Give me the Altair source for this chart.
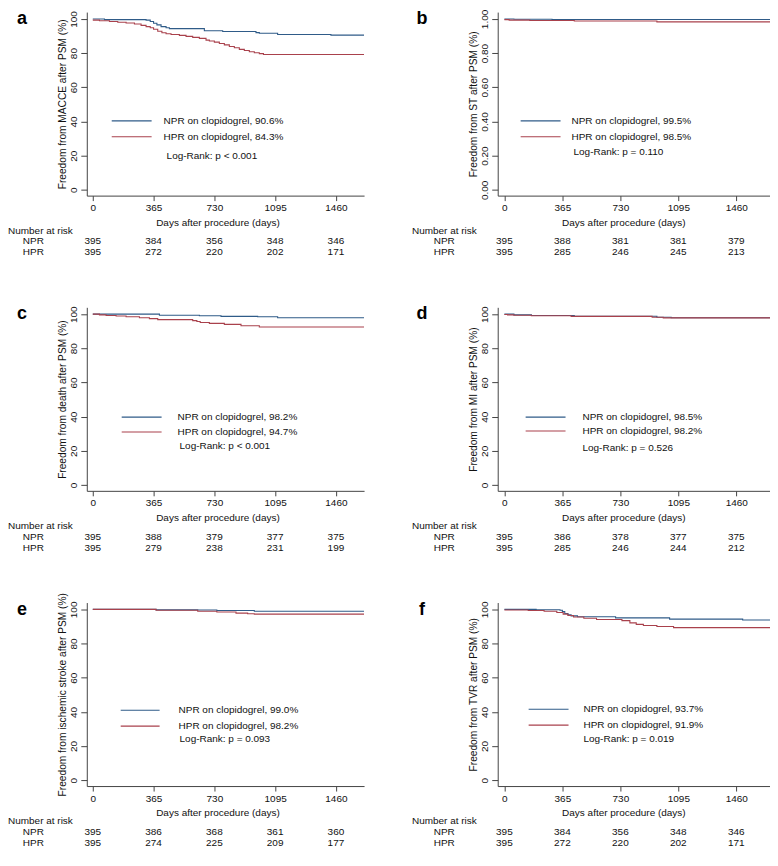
import altair as alt
import pandas as pd

FONT = "Liberation Sans"
BLUE = "#2f5b88"
RED = "#a9414c"
INK = "#111111"

DAY_TICKS = [0, 365, 730, 1095, 1460]
PCT_TICKS = [0, 20, 40, 60, 80, 100]
FRAC_TICKS = [0.0, 0.2, 0.4, 0.6, 0.8, 1.0]
GROUPS = ["NPR", "HPR"]

# ---------------- panel a : MACCE ----------------
A_NPR_T = [0, 70, 320, 345, 365, 385, 410, 440, 460, 670, 780, 980, 1000, 1110, 1430, 1629]
A_NPR_S = [100, 99.6, 99.3, 98.5, 97.5, 96.5, 95.5, 94.8, 94.3, 93.1, 92.6, 92.0, 91.6, 90.9, 90.5, 90.5]
A_HPR_T = [0, 40, 100, 150, 200, 250, 290, 320, 345, 365, 390, 415, 440, 470, 520, 560, 600, 640,
           680, 700, 730, 760, 790, 820, 850, 880, 910, 940, 970, 1000, 1025, 1629]
A_HPR_S = [99.3, 98.9, 98.5, 98.1, 97.6, 97.0, 96.2, 95.5, 94.8, 94.0, 92.8, 91.9, 91.3, 90.9, 90.4, 89.8,
           89.2, 88.6, 87.6, 87.1, 86.4, 85.6, 84.8, 83.9, 83.1, 82.2, 81.5, 80.8, 80.2, 79.7, 79.2, 79.2]
A_RISK_NPR = [395, 384, 356, 348, 346]
A_RISK_HPR = [395, 272, 220, 202, 171]
A_TITLE = "Freedom from MACCE after PSM (%)"
A_LEG = ["NPR on clopidogrel, 90.6%", "HPR on clopidogrel, 84.3%", "Log-Rank: p < 0.001"]

# ---------------- panel b : ST ----------------
B_NPR_T = [0, 60, 300, 1700]
B_NPR_S = [1.0, 0.998, 0.997, 0.997]
B_HPR_T = [0, 30, 160, 440, 960, 1700]
B_HPR_S = [0.996, 0.993, 0.991, 0.988, 0.983, 0.983]
B_RISK_NPR = [395, 388, 381, 381, 379]
B_RISK_HPR = [395, 285, 246, 245, 213]
B_TITLE = "Freedom from ST after PSM (%)"
B_LEG = ["NPR on clopidogrel, 99.5%", "HPR on clopidogrel, 98.5%", "Log-Rank: p = 0.110"]

# ---------------- panel c : death ----------------
C_NPR_T = [0, 400, 640, 770, 990, 1110, 1629]
C_NPR_S = [100, 99.4, 99.1, 98.7, 98.5, 97.9, 97.9]
C_HPR_T = [0, 40, 80, 140, 200, 280, 340, 390, 600, 625, 645, 700, 790, 890, 1000, 1629]
C_HPR_S = [100, 99.6, 99.2, 98.9, 98.5, 97.9, 97.4, 96.8, 96.2, 95.7, 95.1, 94.6, 94.0, 93.2, 92.5, 92.5]
C_RISK_NPR = [395, 388, 379, 377, 375]
C_RISK_HPR = [395, 279, 238, 231, 199]
C_TITLE = "Freedom from death after PSM (%)"
C_LEG = ["NPR on clopidogrel, 98.2%", "HPR on clopidogrel, 94.7%", "Log-Rank: p < 0.001"]

# ---------------- panel d : MI ----------------
D_NPR_T = [0, 60, 170, 440, 960, 1050, 1700]
D_NPR_S = [100, 99.6, 99.2, 98.8, 98.2, 97.9, 97.9]
D_HPR_T = [0, 20, 60, 170, 420, 930, 1000, 1700]
D_HPR_S = [99.8, 99.6, 99.4, 99.1, 98.7, 98.2, 97.8, 97.8]
D_RISK_NPR = [395, 386, 378, 377, 375]
D_RISK_HPR = [395, 285, 246, 244, 212]
D_TITLE = "Freedom from MI after PSM (%)"
D_LEG = ["NPR on clopidogrel, 98.5%", "HPR on clopidogrel, 98.2%", "Log-Rank: p = 0.526"]

# ---------------- panel e : ischemic stroke ----------------
E_NPR_T = [0, 380, 630, 745, 970, 1629]
E_NPR_S = [100, 99.7, 99.6, 99.3, 98.9, 98.9]
E_HPR_T = [0, 380, 630, 745, 860, 930, 970, 1629]
E_HPR_S = [100, 99.5, 98.9, 98.5, 97.8, 97.4, 97.2, 97.2]
E_RISK_NPR = [395, 386, 368, 361, 360]
E_RISK_HPR = [395, 274, 225, 209, 177]
E_TITLE = "Freedom from ischemic stroke after PSM (%)"
E_LEG = ["NPR on clopidogrel, 99.0%", "HPR on clopidogrel, 98.2%", "Log-Rank: p = 0.093"]

# ---------------- panel f : TVR ----------------
F_NPR_T = [0, 200, 350, 365, 380, 400, 420, 460, 700, 1040, 1500, 1700]
F_NPR_S = [100, 99.8, 99.5, 98.8, 97.6, 96.8, 96.2, 95.7, 95.0, 94.3, 93.8, 93.8]
F_HPR_T = [0, 150, 250, 330, 370, 400, 435, 500, 580, 740, 790, 830, 875, 960, 1065, 1700]
F_HPR_S = [99.6, 99.3, 98.9, 98.2, 97.2, 96.4, 95.5, 94.8, 94.1, 93.4, 92.1, 91.2, 90.6, 90.0, 89.3, 89.3]
F_RISK_NPR = [395, 384, 356, 348, 346]
F_RISK_HPR = [395, 272, 220, 202, 171]
F_TITLE = "Freedom from TVR after PSM (%)"
F_LEG = ["NPR on clopidogrel, 93.7%", "HPR on clopidogrel, 91.9%", "Log-Rank: p = 0.019"]

H = 184
ONE = pd.DataFrame({"k": [0]})


def panel(letter, nt, ns, ht, hs, rn, rh, ytitle, leg, col, frac, lpos):
    W = 278 if col == 0 else 273
    xdom = [-36, 1629] if col == 0 else [-42, 1672]
    title_x = 131 if col == 0 else 126
    if frac:
        ydom, yvals, yfmt = [-0.034, 1.04], FRAC_TICKS, ".2f"
    else:
        ydom, yvals, yfmt = [-3.4, 104], PCT_TICKS, "d"

    df = pd.DataFrame(
        [{"t": t, "s": s, "g": "NPR"} for t, s in zip(nt, ns)]
        + [{"t": t, "s": s, "g": "HPR"} for t, s in zip(ht, hs)]
    )
    xt = "Days after procedure (days)"
    x = alt.X("t:Q", title=xt,
              scale=alt.Scale(domain=xdom, nice=False, zero=False),
              axis=alt.Axis(values=DAY_TICKS, format="d", titleX=title_x))
    y = alt.Y("s:Q", title=ytitle,
              scale=alt.Scale(domain=ydom, nice=False, zero=False),
              axis=alt.Axis(values=yvals, format=yfmt))
    lines = alt.Chart(df).mark_line(interpolate="step-after", strokeWidth=1.1, clip=True).encode(
        x=x, y=y,
        color=alt.Color("g:N", scale=alt.Scale(domain=GROUPS, range=[BLUE, RED]), legend=None),
        detail="g:N",
    )

    risk_n = pd.DataFrame({"t": DAY_TICKS, "n": rn})
    risk_h = pd.DataFrame({"t": DAY_TICKS, "n": rh})
    xr = alt.X("t:Q", title=xt)
    rt_n = alt.Chart(risk_n).mark_text(fontSize=10, baseline="middle", color=INK, font=FONT).encode(
        x=xr, y=alt.value(H + 46), text="n:Q")
    rt_h = alt.Chart(risk_h).mark_text(fontSize=10, baseline="middle", color=INK, font=FONT).encode(
        x=xr, y=alt.value(H + 57), text="n:Q")

    nar_x = -79 if col == 0 else -86
    lab_x = -43
    let_x = -65 if col == 0 else -76

    def txt(s, xx, yy, align="left", size=10, weight="normal"):
        return alt.Chart(ONE).mark_text(align=align, baseline="middle", fontSize=size,
                                        fontWeight=weight, color=INK, font=FONT).encode(
            x=alt.value(xx), y=alt.value(yy), text=alt.value(s))

    lx1, lx2, tx, lgx, y1, y2, y3 = lpos
    leg_layers = [
        alt.Chart(ONE).mark_rule(color=BLUE, strokeWidth=1.2).encode(
            x=alt.value(lx1), x2=alt.value(lx2), y=alt.value(y1)),
        alt.Chart(ONE).mark_rule(color=RED, strokeWidth=1.2).encode(
            x=alt.value(lx1), x2=alt.value(lx2), y=alt.value(y2)),
        txt(leg[0], tx, y1),
        txt(leg[1], tx, y2),
        txt(leg[2], lgx, y3),
    ]
    other = [
        txt("Number at risk", nar_x, H + 35),
        txt(GROUPS[0], lab_x, H + 46, align="right"),
        txt(GROUPS[1], lab_x, H + 57, align="right"),
        alt.Chart(ONE).mark_text(align="center", baseline="alphabetic", fontSize=18,
                                 fontWeight="bold", color="#000", font=FONT).encode(
            x=alt.value(let_x), y=alt.value(12), text=alt.value(letter)),
    ]
    return alt.layer(lines, rt_n, rt_h, *leg_layers, *other).properties(width=W, height=H)


pa = panel("a", A_NPR_T, A_NPR_S, A_HPR_T, A_HPR_S, A_RISK_NPR, A_RISK_HPR, A_TITLE, A_LEG, 0, False,
           (25, 65, 77, 80, 109, 125, 144))
pb = panel("b", B_NPR_T, B_NPR_S, B_HPR_T, B_HPR_S, B_RISK_NPR, B_RISK_HPR, B_TITLE, B_LEG, 1, True,
           (23, 63, 74, 76, 109, 125, 140))
pc = panel("c", C_NPR_T, C_NPR_S, C_HPR_T, C_HPR_S, C_RISK_NPR, C_RISK_HPR, C_TITLE, C_LEG, 0, False,
           (35, 75, 91, 93, 110, 125, 139))
pd_ = panel("d", D_NPR_T, D_NPR_S, D_HPR_T, D_HPR_S, D_RISK_NPR, D_RISK_HPR, D_TITLE, D_LEG, 1, False,
            (28, 68, 85, 85, 110, 124, 141))
pe = panel("e", E_NPR_T, E_NPR_S, E_HPR_T, E_HPR_S, E_RISK_NPR, E_RISK_HPR, E_TITLE, E_LEG, 0, False,
           (34, 73, 92, 93, 108, 124, 137))
pf = panel("f", F_NPR_T, F_NPR_S, F_HPR_T, F_HPR_S, F_RISK_NPR, F_RISK_HPR, F_TITLE, F_LEG, 1, False,
           (31, 71, 86, 86, 107, 123, 137))

chart = alt.concat(pa, pb, pc, pd_, pe, pf, columns=2, spacing={"row": 112, "column": 134},
                   bounds="flush").properties(
    padding={"left": 0, "top": 0, "right": 0, "bottom": 0}
).configure_view(stroke=None).configure_axis(
    grid=False, domainColor="#444444", tickColor="#444444", labelColor=INK, titleColor=INK,
    labelFont=FONT, titleFont=FONT, labelFontSize=10, titleFontWeight="normal",
    domainWidth=1, tickWidth=1,
).configure_axisX(
    tickSize=5, labelPadding=2, titlePadding=5, titleFontSize=10,
).configure_axisY(
    tickSize=6, labelPadding=2, titlePadding=1, labelAngle=270, labelAlign="center",
    labelBaseline="bottom", titleFontSize=10.2,
)

chart.save("out.html", embed_options={"renderer": "svg", "actions": False})
